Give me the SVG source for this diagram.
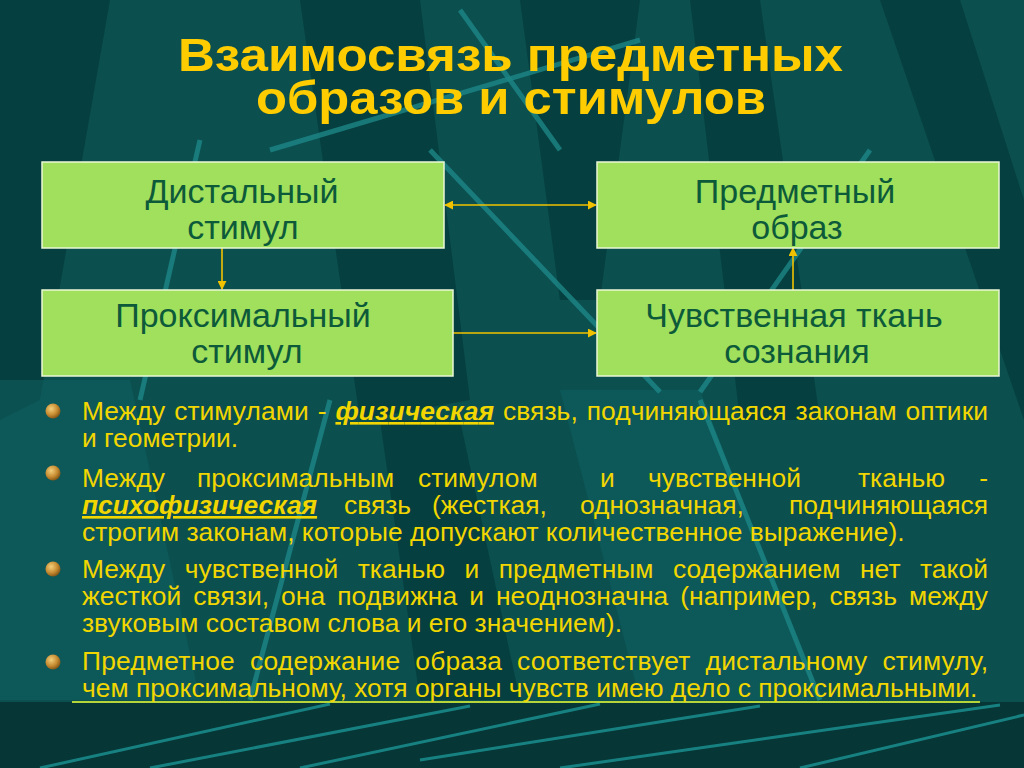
<svg xmlns="http://www.w3.org/2000/svg" width="1024" height="768" viewBox="0 0 1024 768">
<defs>
<style>
.box{fill:#a0e05c;stroke:#eaf8d6;stroke-width:1.5}
.bt{font-family:"Liberation Sans",Arial,sans-serif;font-size:34px;fill:#0d5a3a;text-anchor:middle}
.title{font-family:"Liberation Sans",Arial,sans-serif;font-weight:bold;font-size:46px;fill:#ffcc00}
.tx{font-family:"Liberation Sans",Arial,sans-serif;font-size:26.4px;fill:#f2d600}
.em{font-weight:bold;font-style:italic;text-decoration:underline}
.con{stroke:#f2c200;stroke-width:1.6;fill:none}
.dk{fill:#063a3a;opacity:.75}
.lt{fill:#0f6464;opacity:.5}
.ln{stroke:#1d8686;stroke-width:5;fill:none;opacity:.8}
.bl{stroke:#1a8a8a;stroke-width:3;fill:none;opacity:.9}
</style>
<marker id="ah" viewBox="0 0 10 10" refX="9" refY="5" markerWidth="9" markerHeight="9" markerUnits="userSpaceOnUse" orient="auto-start-reverse">
<path d="M0,0 L10,5 L0,10 z" fill="#f2c200"/>
</marker>
<radialGradient id="ball" cx="0.38" cy="0.35" r="0.7">
<stop offset="0" stop-color="#f3cf7a"/>
<stop offset="0.6" stop-color="#c58a30"/>
<stop offset="1" stop-color="#7a4f15"/>
</radialGradient>
</defs>
<g id="background">
<rect width="1024" height="768" fill="#0b4f4f"/>
<polygon class="dk" points="0,0 110,0 40,400 0,420"/>
<polygon class="dk" points="300,0 420,0 470,400 360,420"/>
<polygon class="dk" points="520,0 640,0 600,300 560,300"/>
<polygon class="dk" points="690,0 760,0 820,420 740,420"/>
<polygon class="dk" points="880,0 960,0 1024,200 1024,420"/>
<polygon class="lt" points="0,380 130,380 200,700 0,700"/>
<polygon class="lt" points="560,390 700,390 820,700 640,700"/>
<polygon class="dk" points="380,420 460,420 520,700 420,700"/>
<line class="ln" x1="140" y1="400" x2="200" y2="140"/>
<line class="ln" x1="270" y1="150" x2="640" y2="40"/>
<line class="ln" x1="460" y1="10" x2="560" y2="150"/>
<line class="ln" x1="430" y1="150" x2="660" y2="392"/>
<line class="ln" x1="870" y1="150" x2="700" y2="392"/>
<line class="ln" x1="700" y1="400" x2="820" y2="700"/>
<line class="ln" x1="330" y1="400" x2="250" y2="700"/>
<rect x="0" y="702" width="1024" height="66" fill="#063636"/>
<line class="bl" x1="40" y1="768" x2="330" y2="704"/>
<line class="bl" x1="150" y1="768" x2="470" y2="706"/>
<line class="bl" x1="300" y1="768" x2="600" y2="704"/>
<line class="bl" x1="420" y1="760" x2="760" y2="706"/>
<line class="bl" x1="560" y1="768" x2="1000" y2="705"/>
<line class="bl" x1="800" y1="768" x2="1024" y2="715"/>
<line x1="72" y1="702" x2="980" y2="702" stroke="#b5d43a" stroke-width="2"/>
</g>
<g id="title">
<text class="title" x="178" y="71" textLength="665" lengthAdjust="spacingAndGlyphs">Взаимосвязь предметных</text>
<text class="title" x="256" y="114" textLength="510" lengthAdjust="spacingAndGlyphs">образов и стимулов</text>
</g>
<g id="connectors">
<line class="con" x1="445" y1="205" x2="596" y2="205" marker-start="url(#ah)" marker-end="url(#ah)"/>
<line class="con" x1="222" y1="248" x2="222" y2="289" marker-end="url(#ah)"/>
<line class="con" x1="453" y1="333" x2="596" y2="333" marker-end="url(#ah)"/>
<line class="con" x1="793" y1="290" x2="793" y2="248" marker-end="url(#ah)"/>
</g>
<g id="node-distal">
<rect class="box" x="42" y="162" width="402" height="86"/>
<text class="bt" x="242" y="203">Дистальный</text>
<text class="bt" x="243" y="239">стимул</text>
</g>
<g id="node-proximal">
<rect class="box" x="42" y="290" width="411" height="86"/>
<text class="bt" x="243" y="327">Проксимальный</text>
<text class="bt" x="247" y="363">стимул</text>
</g>
<g id="node-image">
<rect class="box" x="597" y="162" width="402" height="86"/>
<text class="bt" x="795" y="203">Предметный</text>
<text class="bt" x="797" y="239">образ</text>
</g>
<g id="node-sensory">
<rect class="box" x="597" y="290" width="402" height="86"/>
<text class="bt" x="794" y="327">Чувственная ткань</text>
<text class="bt" x="797" y="363">сознания</text>
</g>
<g id="bullets">
<circle cx="53" cy="411" r="7.5" fill="url(#ball)"/>
<circle cx="53" cy="473" r="7.5" fill="url(#ball)"/>
<circle cx="53" cy="569" r="7.5" fill="url(#ball)"/>
<circle cx="53" cy="662" r="7.5" fill="url(#ball)"/>
<text class="tx" x="82" y="420" word-spacing="1.5" textLength="906" lengthAdjust="spacing">Между стимулами - <tspan class="em">физическая</tspan> связь, подчиняющаяся законам оптики</text>
<text class="tx" x="82" y="447">и геометрии.</text>
<text class="tx" y="487"><tspan x="82">Между</tspan><tspan x="197">проксимальным</tspan><tspan x="418">стимулом</tspan><tspan x="600">и</tspan><tspan x="648">чувственной</tspan><tspan x="858">тканью</tspan></text>
<text class="tx" x="988" y="487" text-anchor="end">-</text>
<text class="tx" y="514"><tspan x="82" class="em">психофизическая</tspan><tspan x="344">связь</tspan><tspan x="432">(жесткая,</tspan><tspan x="580">однозначная,</tspan></text>
<text class="tx" x="988" y="514" text-anchor="end">подчиняющаяся</text>
<text class="tx" x="82" y="541">строгим законам, которые допускают количественное выражение).</text>
<text class="tx" x="82" y="578" word-spacing="12" textLength="906" lengthAdjust="spacing">Между чувственной тканью и предметным содержанием нет такой</text>
<text class="tx" x="82" y="605" word-spacing="4.5" textLength="906" lengthAdjust="spacing">жесткой связи, она подвижна и неоднозначна (например, связь между</text>
<text class="tx" x="82" y="632">звуковым составом слова и его значением).</text>
<text class="tx" x="82" y="670" word-spacing="7.5" textLength="906" lengthAdjust="spacing">Предметное содержание образа соответствует дистальному стимулу,</text>
<text class="tx" x="82" y="697">чем проксимальному, хотя органы чувств имею дело с проксимальными.</text>
</g>
</svg>
